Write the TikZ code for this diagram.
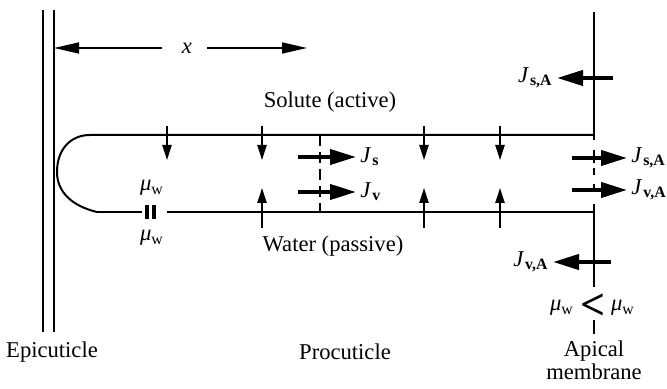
\documentclass[tikz,border=0pt]{standalone}
\usepackage{fontspec}
\setmainfont{Liberation Serif}
\usetikzlibrary{arrows.meta}
\newcommand{\flux}[1]{\textit{J}\kern.5pt\textsubscript{\bfseries#1}}
\newcommand{\muw}{\textit{μ}\textsubscript{w}}
\begin{document}
\begin{tikzpicture}[x=0.5pt,y=-0.5pt,line join=round,font=\fontsize{11.3}{11.5}\selectfont,
		wall/.style={line width=1.2pt},
		tube/.style={line width=1pt},
		inflow/.style={line width=0.9pt,-{Triangle[length=7.5pt,width=4.6pt]}},
		bigflow/.style={line width=2pt,-{Triangle[length=13pt,width=7.5pt]}},
		lbl/.style={inner sep=2pt}]
	\useasboundingbox (0,0) rectangle (667,389);
	% epicuticle
	\draw[wall] (43,10) -- (43,332) (54,10) -- (54,332);
	\path
	(54,48) coordinate (xl)
	(307,48) coordinate (xr)
	(90,135) coordinate (tl)
	(97,212) coordinate (bl)
	(594,135) coordinate (tr)
	(594,212) coordinate (br);
	\node[lbl] (x) at (187,48) {\textit{x}};
	\draw[line width=0.8pt,-{Triangle[length=12.5pt,width=5.5pt]}] (162,48) -- (xl);
	\draw[line width=0.8pt,-{Triangle[length=12.5pt,width=5.5pt]}] (207,48) -- (xr);
	% tube
	\draw[tube] (bl) .. controls (72,206) and (57,192) .. (57,172) .. controls (57,150) and (70,135) .. (tl) -- (tr);
	\draw[tube] (bl) -- (142,212) (167,212) -- (br);
	\draw[line width=2pt] (147,205) -- (147,219) (154,205) -- (154,219);
	\node[lbl] (muup) at (152,188) {\muw};
	\node[lbl] (mudn) at (152,238) {\muw};
	% apical membrane
	\draw[line width=1.3pt] (594,12) -- (594,140) (594,150) -- (594,163) (594,168) -- (594,175)
		(594,184) -- (594,192) (594,204) -- (594,287) (594,320) -- (594,334);
	\draw[line width=0.8pt,dash pattern=on 5.5pt off 3pt] (320,135) -- (320,212);
	\foreach \i in {167,262,424,500}{
		\draw[inflow] (\i,126) -- (\i,160);
	}
	\foreach \i in {262,424,500}{
		\draw[inflow] (\i,228) -- (\i,188);
	}
	\node (solute) at (330,102) {Solute (active)};
	\node (water) at (333,246) {Water (passive)};
	% fluxes
	\node[lbl,anchor=west] (Js) at (356,157) {\flux{s}};
	\node[lbl,anchor=west] (Jv) at (356,192) {\flux{v}};
	\draw[bigflow] (298,157) -- (Js.west);
	\draw[bigflow] (298,192) -- (Jv.west);
	\node[lbl,anchor=east] (JsAo) at (557,78) {\flux{s,A}};
	\draw[bigflow] (613,78) -- (JsAo.east);
	\node[lbl,anchor=west] (JsAi) at (627,158) {\flux{s,A}};
	\node[lbl,anchor=west] (JvAi) at (627,190) {\flux{v,A}};
	\draw[bigflow] (572,158) -- (JsAi.west);
	\draw[bigflow] (572,190) -- (JvAi.west);
	\node[lbl,anchor=east] (JvAo) at (553,262) {\flux{v,A}};
	\draw[bigflow] (611,262) -- (JvAo.east);
	\node[lbl] (lt) at (593,307) {\fontsize{22}{22}\selectfont\bfseries <};
	\node[lbl] (mul) at (562,308) {\muw};
	\node[lbl] (mur) at (623,308) {\muw};
	% labels
	\node (epi) at (52,352) {Epicuticle};
	\node (pro) at (345,352) {Procuticle};
	\node[align=center] (api) at (594,360) {Apical\\membrane};
\end{tikzpicture}
\end{document}
